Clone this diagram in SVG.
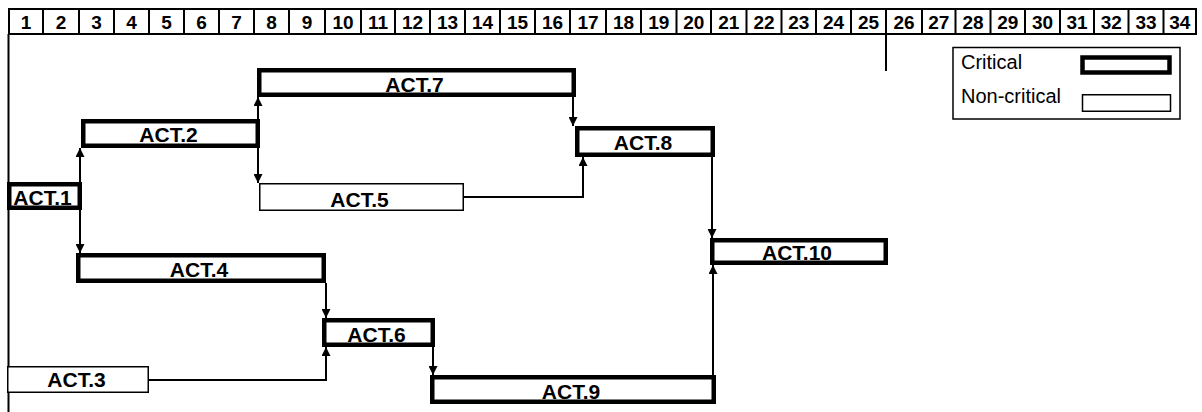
<svg xmlns="http://www.w3.org/2000/svg" width="1202" height="412" viewBox="0 0 1202 412">
<defs>
<style>
.hdr{fill:#fff;stroke:#000;stroke-width:2}
.sep{stroke:#000;stroke-width:2}
.num{font-family:"Liberation Sans",Arial,sans-serif;font-weight:bold;font-size:19px;text-anchor:middle;fill:#000}
.crit{fill:#fff;stroke:#000;stroke-width:4.5}
.nonc{fill:#fff;stroke:#000;stroke-width:1.5}
.lbl{font-family:"Liberation Sans",Arial,sans-serif;font-weight:bold;font-size:21px;text-anchor:middle;fill:#000}
.leg{font-family:"Liberation Sans",Arial,sans-serif;font-size:20px;fill:#000}
.ax{stroke:#000;stroke-width:2;fill:none}
.con{stroke:#000;stroke-width:2;fill:none}
.ae{marker-end:url(#arr)}
.as{marker-start:url(#arr)}
</style>
<marker id="arr" viewBox="0 0 10 10" refX="10" refY="5" markerWidth="10" markerHeight="9" markerUnits="userSpaceOnUse" orient="auto-start-reverse">
<path d="M0,0 L10,5 L0,10 z" fill="#000"/>
</marker>
</defs>
<rect width="1202" height="412" fill="#fff"/>

<g id="timeline">
<rect class="hdr" x="9" y="9" width="1187" height="25"/>
<path class="sep" d="M43,9V34M79,9V34M114,9V34M149,9V34M184,9V34M219,9V34M254,9V34M289,9V34M325,9V34M361,9V34M395,9V34M430,9V34M465,9V34M500,9V34M535,9V34M570,9V34M606,9V34M641,9V34M676.5,9V34M711,9V34M746.5,9V34M781.5,9V34M816,9V34M851,9V34M886,9V34M922,9V34M955.5,9V34M990.5,9V34M1025,9V34M1060,9V34M1094,9V34M1128.5,9V34M1163.5,9V34"/>
<text class="num" x="26" y="28.5">1</text>
<text class="num" x="61" y="28.5">2</text>
<text class="num" x="96.5" y="28.5">3</text>
<text class="num" x="131.5" y="28.5">4</text>
<text class="num" x="166.5" y="28.5">5</text>
<text class="num" x="201.5" y="28.5">6</text>
<text class="num" x="236.5" y="28.5">7</text>
<text class="num" x="271.5" y="28.5">8</text>
<text class="num" x="307" y="28.5">9</text>
<text class="num" x="343" y="28.5">10</text>
<text class="num" x="378" y="28.5">11</text>
<text class="num" x="412.5" y="28.5">12</text>
<text class="num" x="447.5" y="28.5">13</text>
<text class="num" x="482.5" y="28.5">14</text>
<text class="num" x="517.5" y="28.5">15</text>
<text class="num" x="552.5" y="28.5">16</text>
<text class="num" x="588" y="28.5">17</text>
<text class="num" x="623.5" y="28.5">18</text>
<text class="num" x="658.75" y="28.5">19</text>
<text class="num" x="693.75" y="28.5">20</text>
<text class="num" x="728.75" y="28.5">21</text>
<text class="num" x="764" y="28.5">22</text>
<text class="num" x="798.75" y="28.5">23</text>
<text class="num" x="833.5" y="28.5">24</text>
<text class="num" x="868.5" y="28.5">25</text>
<text class="num" x="904" y="28.5">26</text>
<text class="num" x="938.75" y="28.5">27</text>
<text class="num" x="973" y="28.5">28</text>
<text class="num" x="1007.75" y="28.5">29</text>
<text class="num" x="1042.5" y="28.5">30</text>
<text class="num" x="1077" y="28.5">31</text>
<text class="num" x="1111.25" y="28.5">32</text>
<text class="num" x="1146" y="28.5">33</text>
<text class="num" x="1179.75" y="28.5">34</text>
<path class="ax" d="M8.5,34V412M886,34V71"/>
</g>

<g id="connectors">
<path class="con ae as" d="M80,148V253"/>
<path class="con ae as" d="M258,97V183"/>
<path class="con ae" d="M573,97V126"/>
<path class="con ae" d="M464,197H583V157"/>
<path class="con ae" d="M712,157V238"/>
<path class="con ae" d="M326,283V318"/>
<path class="con ae" d="M149,380H326V347"/>
<path class="con ae" d="M433,347V375"/>
<path class="con ae" d="M713,375V265"/>
</g>

<g id="act1"><rect class="crit" x="9.25" y="184.25" width="70.5" height="23.5"/><text class="lbl" x="42.5" y="204.5">ACT.1</text></g>
<g id="act2"><rect class="crit" x="83.25" y="121.25" width="174.5" height="24.5"/><text class="lbl" x="168.5" y="141.7">ACT.2</text></g>
<g id="act7"><rect class="crit" x="259.25" y="70.25" width="314.5" height="24.5"/><text class="lbl" x="414.5" y="91.5">ACT.7</text></g>
<g id="act8"><rect class="crit" x="577.25" y="128.25" width="135.5" height="26.5"/><text class="lbl" x="643" y="150">ACT.8</text></g>
<g id="act5"><rect class="nonc" x="259.75" y="183.75" width="203.5" height="26.5"/><text class="lbl" x="359.5" y="206.7">ACT.5</text></g>
<g id="act4"><rect class="crit" x="78.25" y="255.25" width="245.5" height="25.5"/><text class="lbl" x="199" y="277">ACT.4</text></g>
<g id="act6"><rect class="crit" x="324.25" y="320.25" width="108.5" height="24.5"/><text class="lbl" x="376.5" y="341.5">ACT.6</text></g>
<g id="act3"><rect class="nonc" x="7.75" y="366.75" width="140.5" height="25.5"/><text class="lbl" x="76.5" y="386.7">ACT.3</text></g>
<g id="act9"><rect class="crit" x="432.25" y="377.25" width="281.5" height="24.5"/><text class="lbl" x="571" y="398.5">ACT.9</text></g>
<g id="act10"><rect class="crit" x="712.25" y="240.25" width="173.5" height="22.5"/><text class="lbl" x="797" y="260">ACT.10</text></g>

<g id="legend">
<rect class="nonc" x="953" y="47.5" width="227" height="71.5"/>
<text class="leg" x="961" y="69.3">Critical</text>
<rect class="crit" x="1082.5" y="57.5" width="87" height="15"/>
<text class="leg" x="961" y="103.3">Non-critical</text>
<rect class="nonc" x="1082.5" y="94.75" width="88" height="16.5"/>
</g>
</svg>
